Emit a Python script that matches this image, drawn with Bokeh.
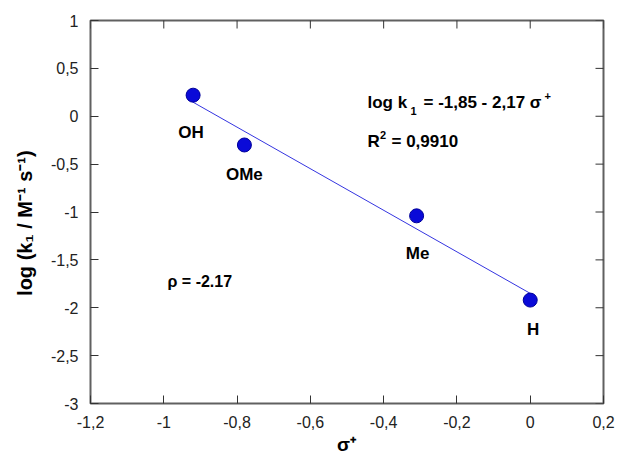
import math
from bokeh.plotting import figure
from bokeh.models import (Range1d, LinearAxis, FixedTicker, CustomJSTickFormatter,
                          Label, ColumnDataSource)
from bokeh.core.properties import value
from bokeh.embed import file_html
from bokeh.resources import INLINE

# ---- data ----
substituents = ["OH", "OMe", "Me", "H"]
sigma_plus = [-0.92, -0.78, -0.31, 0.0]
log_k1 = [0.22, -0.30, -1.04, -1.92]
fit_intercept = -1.85
fit_slope = -2.17
x_ticks = [-1.2, -1.0, -0.8, -0.6, -0.4, -0.2, 0.0, 0.2]
y_ticks = [-3.0, -2.5, -2.0, -1.5, -1.0, -0.5, 0.0, 0.5, 1.0]
x_min, x_max = -1.2, 0.2
y_min, y_max = -3.0, 1.0
y_title = "log (k\u2081 / M\u207b\u00b9 s\u207b\u00b9)"
x_title = "\u03c3\u207a"

# label pixel offsets (layout)
label_dx = [-2, 0, 1, 3]
label_dy = [37, 30, 38, 29]

FONT = "Liberation Sans"
W, H = 617, 454
FL, FT, FR, FB = 90, 20, 14, 51          # frame borders
FW, FH = W - FL - FR, H - FT - FB


def px2x(px):
    return x_min + (px - FL) / FW * (x_max - x_min)


def px2y(py):
    return y_max - (py - FT) / FH * (y_max - y_min)


p = figure(width=W, height=H, output_backend="svg", toolbar_location=None,
           x_range=Range1d(x_min, x_max), y_range=Range1d(y_min, y_max),
           min_border_left=FL, min_border_right=FR, min_border_top=FT,
           min_border_bottom=FB, x_axis_location=None, y_axis_location=None)
p.grid.visible = False
p.outline_line_color = "#606060"
p.outline_line_width = 2
p.background_fill_color = "white"
p.border_fill_color = "white"

fmt = CustomJSTickFormatter(code="var s = (Math.round(tick*10)/10).toString(); if (s=='-0') s='0'; return s.replace('.', ',');")


def make_axis(ticks):
    ax = LinearAxis(ticker=FixedTicker(ticks=ticks), formatter=fmt)
    ax.axis_line_color = None
    ax.major_tick_in = 8
    ax.major_tick_out = 0
    ax.major_tick_line_color = "#333333"
    ax.major_tick_line_width = 1
    ax.minor_tick_line_color = None
    ax.major_label_text_font = FONT
    ax.major_label_text_font_size = "16px"
    ax.major_label_text_color = "#222222"
    ax.major_label_standoff = 12
    ax.axis_label_text_font = FONT
    ax.axis_label_text_font_style = "bold"
    ax.axis_label_text_color = "black"
    return ax


xax = make_axis(x_ticks)
p.add_layout(xax, "below")

yax = make_axis(y_ticks)
yax.axis_label = y_title + "\u00a0\u00a0\u00a0\u00a0"
yax.axis_label_text_font_size = "20px"
yax.axis_label_standoff = 12
p.add_layout(yax, "left")

# x-axis title placed in the lower panel
p.add_layout(Label(x=px2x(346), y=7, y_units="screen", text=x_title,
                   text_font=FONT, text_font_style="bold", text_color="black",
                   text_font_size="19px", text_align="center",
                   text_baseline="alphabetic"), "below")

# mirrored inward ticks on top and right (half of each dash is clipped by the frame)
p.scatter(x_ticks, [y_max] * len(x_ticks), marker="dash", size=16, angle=math.pi / 2,
          line_color="#333333", line_width=1)
p.scatter([x_max] * len(y_ticks), y_ticks, marker="dash", size=16,
          line_color="#333333", line_width=1)

# fit line
fit_x = [min(sigma_plus), max(sigma_plus)]
fit_y = [fit_intercept + fit_slope * v for v in fit_x]
p.line(fit_x, fit_y, line_color="#3535e0", line_width=1)

src = ColumnDataSource(dict(x=sigma_plus, y=log_k1, name=substituents,
                            dx=label_dx, dy=label_dy))
p.scatter("x", "y", source=src, size=14, fill_color="#0a0ad8",
          line_color="#00009a", line_width=1)
p.text("x", "y", text="name", source=src, x_offset="dx", y_offset="dy",
       text_align="center", text_baseline="middle",
       text_font=value(FONT), text_font_size="17px", text_font_style="bold",
       text_color="black")


def lab(px, py, text, size, align="left"):
    p.add_layout(Label(x=px2x(px), y=px2y(py), text=text,
                       text_font=FONT, text_font_style="bold", text_color="black",
                       text_font_size=f"{size}px", text_align=align,
                       text_baseline="alphabetic"))


# equation
lab(367, 102, "log k", 17)
lab(410, 110, "1", 11)
lab(423, 102, "= -1,85 - 2,17 \u03c3", 17)
lab(544, 95, "+", 11)
# R^2
lab(367, 141, "R", 17)
lab(379.5, 134, "2", 11)
lab(391, 141, "= 0,9910", 17)
# rho
lab(167, 281, "\u03c1 = -2.17", 16)

open("out.html", "w").write(file_html(p, INLINE))
